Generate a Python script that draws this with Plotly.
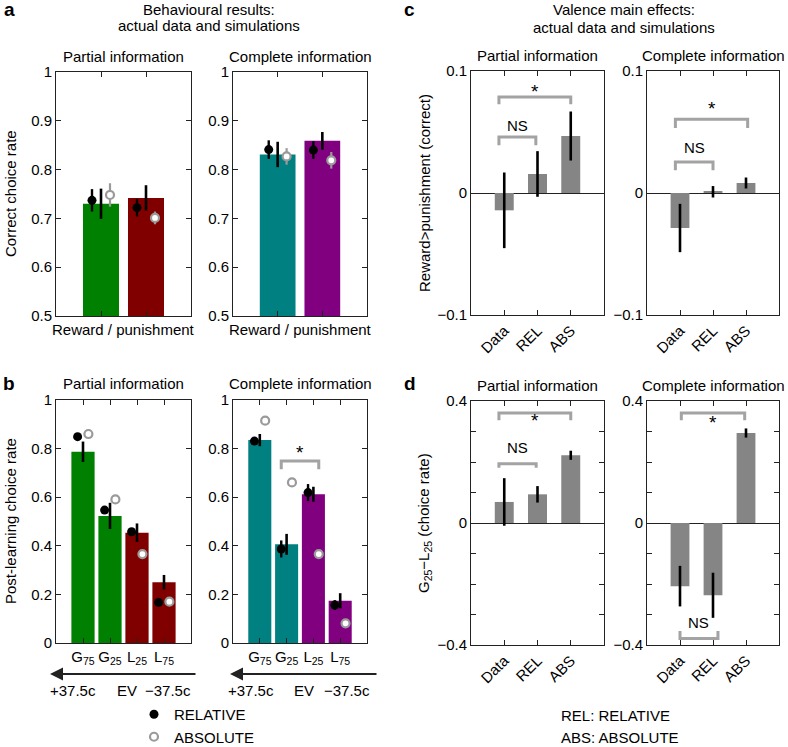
import plotly.graph_objects as go

W, H = 788, 747
FONT = "Liberation Sans, Arial, sans-serif"

GREEN, DRED, TEAL, PURPLE = "#008000", "#800000", "#008080", "#800080"
GRAYBAR = "#858585"
ABSGRAY = "#9a9a9a"
BRK = "#a3a3a3"

# ---------------- panel a : correct choice rate ----------------
a_pos = [1, 2]
a_partial_bar = [0.730, 0.742]
a_partial_bar_err = [0.031, 0.026]
a_partial_rel = [0.737, 0.722]
a_partial_rel_err = [0.023, 0.018]
a_partial_abs = [0.748, 0.701]
a_partial_abs_err = [0.024, 0.013]
a_complete_bar = [0.831, 0.859]
a_complete_bar_err = [0.026, 0.018]
a_complete_rel = [0.841, 0.840]
a_complete_rel_err = [0.019, 0.018]
a_complete_abs = [0.827, 0.819]
a_complete_abs_err = [0.017, 0.017]
a_yticks = [0.5, 0.6, 0.7, 0.8, 0.9, 1.0]
a_yticktext = ["0.5", "0.6", "0.7", "0.8", "0.9", "1"]

# ---------------- panel b : post-learning choice rate ----------------
b_pos = [1, 2, 3, 4]
b_labels = ["G<sub>75</sub>", "G<sub>25</sub>", "L<sub>25</sub>", "L<sub>75</sub>"]
b_partial_bar = [0.787, 0.523, 0.454, 0.250]
b_partial_bar_err = [0.042, 0.054, 0.038, 0.030]
b_partial_rel = [0.849, 0.547, 0.458, 0.167]
b_partial_rel_err = [0.012, 0.012, 0.012, 0.012]
b_partial_abs = [0.860, 0.591, 0.366, 0.170]
b_partial_abs_err = [0.006, 0.006, 0.006, 0.006]
b_complete_bar = [0.835, 0.406, 0.612, 0.174]
b_complete_bar_err = [0.025, 0.043, 0.031, 0.031]
b_complete_rel = [0.831, 0.387, 0.619, 0.156]
b_complete_rel_err = [0.012, 0.035, 0.035, 0.020]
b_complete_abs = [0.915, 0.661, 0.366, 0.081]
b_complete_abs_err = [0.006, 0.006, 0.006, 0.006]
b_yticks = [0, 0.2, 0.4, 0.6, 0.8, 1.0]
b_yticktext = ["0", "0.2", "0.4", "0.6", "0.8", "1"]
b_complete_brackets = [(1.8, 3.2, 0.749, 0.034, "*", 0.785)]

# ---------------- panel c : reward > punishment ----------------
cd_pos = [1, 2, 3]
cd_labels = ["Data", "REL", "ABS"]
c_partial = [-0.0142, 0.0156, 0.0467]
c_partial_err = [0.031, 0.0187, 0.0201]
c_complete = [-0.0287, 0.0010, 0.0082]
c_complete_err = [0.0198, 0.0047, 0.0045]
c_yticks = [-0.1, 0, 0.1]
c_yticktext = ["\u22120.1", "0", "0.1"]
c_partial_brackets = [(0.84, 1.95, 0.0459, 0.0068, "NS", 0.0555),
                      (0.84, 3.00, 0.0787, 0.0060, "*", 0.0830)]
c_complete_brackets = [(0.86, 2.00, 0.0254, 0.0068, "NS", 0.0377),
                       (0.86, 3.05, 0.0604, 0.0071, "*", 0.0690)]

# ---------------- panel d : G25 - L25 ----------------
d_partial = [0.069, 0.094, 0.222]
d_partial_err = [0.078, 0.027, 0.015]
d_complete = [-0.207, -0.237, 0.295]
d_complete_err = [0.0665, 0.074, 0.015]
d_yticks = [-0.4, 0, 0.4]
d_yticktext = ["\u22120.4", "0", "0.4"]
d_yminor = [-0.3, -0.2, -0.1, 0.1, 0.2, 0.3]
d_partial_brackets = [(0.84, 1.96, 0.194, 0.013, "NS", 0.247),
                      (0.84, 3.00, 0.361, 0.024, "*", 0.335)]
d_complete_brackets = [(1.04, 2.96, 0.361, 0.024, "*", 0.330),
                       (1.00, 2.15, -0.379, -0.025, "NS", -0.325)]

OFF = 0.2  # horizontal offset of simulation markers

# subplot boxes in pixels: (left, right, top, bottom)
boxes = {
    1: (56, 191, 72, 316), 2: (233, 367, 72, 316),
    3: (56, 191, 400, 643), 4: (233, 367, 400, 643),
    5: (471, 604, 71, 315), 6: (647, 779, 71, 315),
    7: (471, 604, 401, 645), 8: (647, 779, 401, 645),
}

fig = go.Figure()
layout = {}


def px_x(p):
    return p / W


def px_y(p):
    return 1 - p / H


def setup_axes(i, xrange, xticks, xtext, yrange, yticks, ytext, zeroline=False,
               xangle=0, yminor=None):
    l, r, t, b = boxes[i]
    sx = "" if i == 1 else str(i)
    common = dict(showline=True, linecolor="#222", linewidth=1, mirror="ticks",
                  ticks="inside", ticklen=5, tickwidth=1, tickcolor="#222",
                  showgrid=False, fixedrange=True,
                  tickfont=dict(size=15, color="black", family=FONT))
    xa = dict(common, domain=[px_x(l), px_x(r)], range=xrange,
              anchor="y" + sx, tickmode="array", tickvals=xticks,
              zeroline=False, tickangle=xangle)
    if xtext is None:
        xa["showticklabels"] = False
    else:
        xa["ticktext"] = xtext
    ya = dict(common, domain=[px_y(b), px_y(t)], range=yrange,
              anchor="x" + sx, tickmode="array", tickvals=yticks,
              ticktext=ytext, zeroline=zeroline,
              zerolinecolor="#222", zerolinewidth=1)
    if yminor is not None:
        ya["minor"] = dict(tickmode="array", tickvals=yminor, ticks="inside",
                           ticklen=5, tickcolor="#222", tickwidth=1, showgrid=False)
    layout["xaxis" + sx] = xa
    layout["yaxis" + sx] = ya
    return "x" + sx, "y" + sx


def add_bars(xa, ya, pos, vals, errs, colors, width):
    fig.add_trace(go.Bar(x=pos, y=vals, width=width, xaxis=xa, yaxis=ya,
                         marker=dict(color=colors, line=dict(width=0)),
                         error_y=dict(type="data", array=errs, visible=True,
                                      color="black", thickness=2.6, width=0),
                         showlegend=False, hoverinfo="skip"))


first_legend = {"rel": True, "abs": True}


def add_sims(xa, ya, pos, rel, rel_err, ab, ab_err):
    fig.add_trace(go.Scatter(x=[p - OFF for p in pos], y=rel, xaxis=xa, yaxis=ya,
                             mode="markers", name="RELATIVE", legendgroup="rel",
                             showlegend=first_legend["rel"],
                             marker=dict(color="black", size=9, line=dict(width=0)),
                             error_y=dict(type="data", array=rel_err, color="black",
                                          thickness=2.4, width=0),
                             hoverinfo="skip"))
    first_legend["rel"] = False
    fig.add_trace(go.Scatter(x=[p + OFF for p in pos], y=ab, xaxis=xa, yaxis=ya,
                             mode="markers", name="ABSOLUTE", legendgroup="abs",
                             showlegend=first_legend["abs"],
                             marker=dict(color="white", size=8,
                                         line=dict(width=2.2, color=ABSGRAY)),
                             error_y=dict(type="data", array=ab_err, color=ABSGRAY,
                                          thickness=2.2, width=0),
                             hoverinfo="skip"))
    first_legend["abs"] = False


annotations = []


def add_brackets(xa, ya, brackets):
    for x0, x1, yb, leg, label, ly in brackets:
        fig.add_trace(go.Scatter(x=[x0, x0, x1, x1], y=[yb - leg, yb, yb, yb - leg],
                                 xaxis=xa, yaxis=ya, mode="lines",
                                 line=dict(color=BRK, width=3),
                                 showlegend=False, hoverinfo="skip"))
        star = label == "*"
        annotations.append(dict(x=(x0 + x1) / 2, y=ly, xref=xa, yref=ya, text=label,
                                showarrow=False,
                                font=dict(size=19 if star else 15, color="black"),
                                yanchor="middle", yshift=0))


# panel a
xa, ya = setup_axes(1, [0, 3], a_pos, None, [0.5, 1], a_yticks, a_yticktext)
add_bars(xa, ya, a_pos, a_partial_bar, a_partial_bar_err, [GREEN, DRED], 0.8)
add_sims(xa, ya, a_pos, a_partial_rel, a_partial_rel_err, a_partial_abs, a_partial_abs_err)
xa, ya = setup_axes(2, [0, 3], a_pos, None, [0.5, 1], a_yticks, a_yticktext)
add_bars(xa, ya, a_pos, a_complete_bar, a_complete_bar_err, [TEAL, PURPLE], 0.8)
add_sims(xa, ya, a_pos, a_complete_rel, a_complete_rel_err, a_complete_abs, a_complete_abs_err)

# panel b
xa, ya = setup_axes(3, [0, 5], b_pos, b_labels, [0, 1], b_yticks, b_yticktext)
add_bars(xa, ya, b_pos, b_partial_bar, b_partial_bar_err, [GREEN, GREEN, DRED, DRED], 0.86)
add_sims(xa, ya, b_pos, b_partial_rel, b_partial_rel_err, b_partial_abs, b_partial_abs_err)
xa, ya = setup_axes(4, [0, 5], b_pos, b_labels, [0, 1], b_yticks, b_yticktext)
add_bars(xa, ya, b_pos, b_complete_bar, b_complete_bar_err, [TEAL, TEAL, PURPLE, PURPLE], 0.86)
add_brackets(xa, ya, b_complete_brackets)
add_sims(xa, ya, b_pos, b_complete_rel, b_complete_rel_err, b_complete_abs, b_complete_abs_err)

# panel c
xa, ya = setup_axes(5, [0, 4], cd_pos, cd_labels, [-0.1, 0.1], c_yticks, c_yticktext, True, -45)
add_bars(xa, ya, cd_pos, c_partial, c_partial_err, GRAYBAR, 0.57)
add_brackets(xa, ya, c_partial_brackets)
xa, ya = setup_axes(6, [0, 4], cd_pos, cd_labels, [-0.1, 0.1], c_yticks, c_yticktext, True, -45)
add_bars(xa, ya, cd_pos, c_complete, c_complete_err, GRAYBAR, 0.57)
add_brackets(xa, ya, c_complete_brackets)

# panel d
xa, ya = setup_axes(7, [0, 4], cd_pos, cd_labels, [-0.4, 0.4], d_yticks, d_yticktext, True, -45, d_yminor)
add_bars(xa, ya, cd_pos, d_partial, d_partial_err, GRAYBAR, 0.57)
add_brackets(xa, ya, d_partial_brackets)
xa, ya = setup_axes(8, [0, 4], cd_pos, cd_labels, [-0.4, 0.4], d_yticks, d_yticktext, True, -45, d_yminor)
add_bars(xa, ya, cd_pos, d_complete, d_complete_err, GRAYBAR, 0.57)
add_brackets(xa, ya, d_complete_brackets)


def text(x, y, s, size=15, bold=False, xanchor="center", angle=0):
    annotations.append(dict(x=px_x(x), y=px_y(y), xref="paper", yref="paper",
                            text=("<b>%s</b>" % s) if bold else s, showarrow=False,
                            xanchor=xanchor, yanchor="middle", textangle=angle,
                            font=dict(size=size, color="black", family=FONT)))


# panel letters
text(9, 9, "a", 19, True)
text(9, 383, "b", 19, True)
text(410, 10, "c", 19, True)
text(410, 383, "d", 19, True)

# headings
text(209, 9, "Behavioural results:")
text(209, 26, "actual data and simulations")
text(624, 10, "Valence main effects:")
text(624, 27, "actual data and simulations")
subtitles = ["Partial information", "Complete information"] * 4
for k, name in zip(range(1, 9), subtitles):
    l, r, t, b = boxes[k]
    text((l + r) / 2, t - 16, name)

# x labels of panel a
text((boxes[1][0] + boxes[1][1]) / 2, 330, "Reward / punishment")
text((boxes[2][0] + boxes[2][1]) / 2, 330, "Reward / punishment")

# y titles
text(10, 194, "Correct choice rate", angle=-90)
text(10, 521, "Post-learning choice rate", angle=-90)
text(424, 193, "Reward&gt;punishment (correct)", angle=-90)
text(424, 523, "G<sub>25</sub>\u2212L<sub>25</sub> (choice rate)", angle=-90)

# EV arrows
for tip, tail, lab in [(50, 197, (73, 127, 168)), (230, 378, (251, 304, 347))]:
    annotations.append(dict(x=px_x(tip), y=px_y(674), xref="paper", yref="paper",
                            ax=tail - tip, ay=0, axref="pixel", ayref="pixel",
                            showarrow=True, arrowhead=2, arrowsize=1.3, arrowwidth=2,
                            arrowcolor="#222", text=""))
    text(lab[0], 690, "+37.5c")
    text(lab[1], 690, "EV")
    text(lab[2], 690, "\u221237.5c")

# key for model names
text(559, 715, "REL: RELATIVE", xanchor="left")
text(559, 737, "ABS: ABSOLUTE", xanchor="left")

layout.update(dict(
    width=W, height=H, margin=dict(l=0, r=0, t=0, b=0, pad=0, autoexpand=False),
    paper_bgcolor="white", plot_bgcolor="white",
    font=dict(family=FONT, size=15, color="black"),
    showlegend=True,
    legend=dict(x=px_x(134), y=px_y(698), xanchor="left", yanchor="top",
                bgcolor="rgba(0,0,0,0)", font=dict(size=15, color="black"),
                tracegroupgap=0, itemwidth=30),
    annotations=annotations,
))
fig.update_layout(**layout)
fig.write_html("out.html", config={"displayModeBar": False},
               post_script="document.body.style.margin='0';"
                           "document.body.style.overflow='hidden';")
